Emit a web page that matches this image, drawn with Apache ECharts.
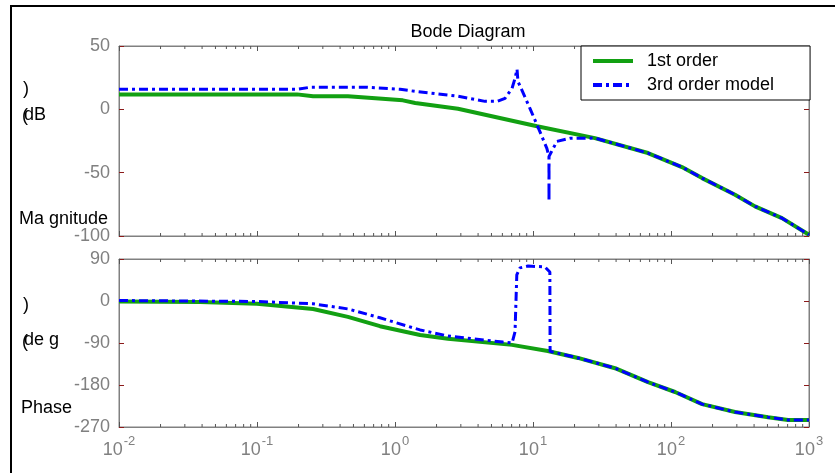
<!DOCTYPE html>
<html>
<head>
<meta charset="utf-8">
<script src="https://cdn.jsdelivr.net/npm/echarts@6/dist/echarts.min.js"></script>
<style>
  html, body { margin: 0; padding: 0; background: #fff; }
  #bode { width: 835px; height: 473px; }
</style>
</head>
<body>
<div id="bode"></div>
<script>
// 频率 (rad/s) 与幅值/相位
var magFreq1 = [0.01, 0.195, 0.255, 0.456, 1.14, 1.40, 2.86, 10.7, 28.1, 68.1, 120, 168, 291, 406, 637, 1000];
var magDb1   = [11.8, 11.8, 10.3, 10.3, 7.1, 5.0, 0.5, -13.4, -22.7, -34.5, -45.6, -54.3, -67.4, -76.6, -85.9, -99];

var magFreq3 = [0.01, 0.195, 0.242, 0.627, 1.09, 1.40, 2.87, 4.49, 5.5, 6.27, 7.05, 7.41, 7.66, 7.78, 9.50, 11.2, 12.6, 13.05, 13.06, 13.07, 14.9, 18.5, 28.1, 68.1, 120, 168, 291, 406, 637, 1000];
var magDb3   = [15.8, 15.8, 17.4, 17.4, 15.8, 14.2, 10.3, 6.3, 6.3, 8.7, 16.6, 24.5, 31.6, 22.1, 0.8, -17.4, -30.8, -37.1, -72.7, -37.1, -25.3, -22.9, -22.7, -34.5, -45.6, -54.3, -67.4, -76.6, -85.9, -99];

var phFreq1 = [0.01, 0.0387, 0.1, 0.255, 0.456, 0.778, 1.52, 2.42, 7.05, 12.8, 21.2, 39.3, 68.1, 107, 168, 291, 505, 705, 1000];
var phDeg1  = [-1, -2, -6, -17, -34, -54, -73, -81, -94, -107, -122, -144, -174, -195, -221, -238, -249, -255, -255];

var phFreq3 = [0.01, 0.1, 0.255, 0.456, 0.778, 1.52, 2.42, 6.07, 7.05, 7.41, 7.63, 8.05, 9.21, 12.2, 13.25, 13.3, 21.2, 39.3, 68.1, 107, 168, 291, 505, 705, 1000];
var phDeg3  = [1, -1, -6, -17, -36, -62, -75, -88, -90, -66, 56, 71, 75, 73, 62, -108, -122, -144, -174, -195, -221, -238, -249, -255, -255];

var magTicks = [-100, -50, 0, 50];
var phaseTicks = [-270, -180, -90, 0, 90];
var seriesNames = ['1st order', '3rd order model'];

// 对数轴的小刻度 2..9 x 10^k
var minorTicks = [];
for (var k = -2; k < 3; k++) {
  for (var m = 2; m < 10; m++) minorTicks.push([m * Math.pow(10, k), 0]);
}

function pairs(xs, ys) {
  return xs.map(function (x, i) { return [x, ys[i]]; });
}

var FONT = 'Liberation Sans, Arial, sans-serif';
var GRAY = '#808080';
var GREEN = '#12a012';
var BLUE = '#0000ff';

var chart = echarts.init(document.getElementById('bode'));

function xAx(gi, pos, labels) {
  return {
    type: 'log', logBase: 10, min: 0.01, max: 1000, gridIndex: gi, position: pos,
    axisLine: { show: true, onZero: false, lineStyle: { color: GRAY, width: 1 } },
    axisTick: { show: true, inside: true, length: 5, lineStyle: { color: '#555' } },
    splitLine: { show: false },
    axisLabel: {
      show: labels, margin: 8, fontFamily: FONT,
      formatter: function (v) { return '{b|10}{s|' + Math.round(Math.log10(v)) + '}'; },
      rich: {
        b: { fontSize: 18, color: GRAY, fontFamily: FONT, verticalAlign: 'bottom', lineHeight: 24 },
        s: { fontSize: 13, color: GRAY, fontFamily: FONT, verticalAlign: 'top', lineHeight: 24, padding: [0, 0, 10, 1] }
      }
    }
  };
}

function yAx(gi, pos, mn, mx, step, labels) {
  return {
    type: 'value', min: mn, max: mx, interval: step, gridIndex: gi, position: pos,
    axisLine: { show: true, onZero: false, lineStyle: { color: GRAY, width: 1 } },
    axisTick: { show: true, inside: true, length: 5, lineStyle: { color: '#8b1a1a' } },
    splitLine: { show: false },
    axisLabel: { show: labels, margin: 9, fontSize: 18, color: GRAY, fontFamily: FONT }
  };
}

function minorSeries(xi, yi) {
  return {
    type: 'custom', xAxisIndex: xi, yAxisIndex: yi, silent: true, z: 1,
    data: minorTicks,
    renderItem: function (params, api) {
      var x = api.coord([api.value(0), 0])[0];
      var cs = params.coordSys;
      var st = { stroke: '#555', lineWidth: 1 };
      return {
        type: 'group', children: [
          { type: 'line', shape: { x1: x, y1: cs.y + cs.height, x2: x, y2: cs.y + cs.height - 3 }, style: st },
          { type: 'line', shape: { x1: x, y1: cs.y, x2: x, y2: cs.y + 3 }, style: st }
        ]
      };
    }
  };
}

var option = {
  animation: false,
  backgroundColor: '#fff',
  title: {
    text: 'Bode Diagram', left: 463, top: 18, textAlign: 'center',
    textStyle: { fontSize: 18, fontWeight: 'normal', color: '#000', fontFamily: FONT }
  },
  legend: {
    data: seriesNames, orient: 'vertical', left: 581, top: 46,
    itemWidth: 40, itemHeight: 14, itemGap: 6, padding: [6, 36, 6, 10],
    borderColor: '#000', borderWidth: 1, backgroundColor: '#fff',
    itemStyle: { opacity: 0 },
    lineStyle: { width: 4 },
    textStyle: { fontSize: 18, color: '#000', fontFamily: FONT, padding: [0, 0, 0, 9] }
  },
  grid: [
    { left: 119, top: 46, width: 690, height: 190, show: true, borderColor: GRAY, borderWidth: 1 },
    { left: 119, top: 259, width: 690, height: 168, show: true, borderColor: GRAY, borderWidth: 1 }
  ],
  xAxis: [xAx(0, 'bottom', false), xAx(0, 'top', false), xAx(1, 'bottom', true), xAx(1, 'top', false)],
  yAxis: [
    yAx(0, 'left', magTicks[0], magTicks[magTicks.length - 1], 50, true),
    yAx(0, 'right', magTicks[0], magTicks[magTicks.length - 1], 50, false),
    yAx(1, 'left', phaseTicks[0], phaseTicks[phaseTicks.length - 1], 90, true),
    yAx(1, 'right', phaseTicks[0], phaseTicks[phaseTicks.length - 1], 90, false)
  ],
  graphic: [
    { type: 'line', shape: { x1: 10, y1: 6, x2: 835, y2: 6 }, style: { stroke: '#000', lineWidth: 2 } },
    { type: 'line', shape: { x1: 11, y1: 5, x2: 11, y2: 473 }, style: { stroke: '#000', lineWidth: 2 } },
    { type: 'text', left: 23, top: 80, style: { text: ')', fill: '#000', font: '18px ' + FONT } },
    { type: 'text', left: 22, top: 107, style: { text: '(', fill: '#000', font: '18px ' + FONT } },
    { type: 'text', left: 24, top: 106, style: { text: 'dB', fill: '#000', font: '18px ' + FONT } },
    { type: 'text', left: 19, top: 210, style: { text: 'Ma gnitude', fill: '#000', font: '18px ' + FONT } },
    { type: 'text', left: 23, top: 296, style: { text: ')', fill: '#000', font: '18px ' + FONT } },
    { type: 'text', left: 22, top: 333, style: { text: '(', fill: '#000', font: '18px ' + FONT } },
    { type: 'text', left: 24, top: 331, style: { text: 'de g', fill: '#000', font: '18px ' + FONT } },
    { type: 'text', left: 21, top: 399, style: { text: 'Phase', fill: '#000', font: '18px ' + FONT } }
  ],
  series: [
    {
      name: seriesNames[0], type: 'line', xAxisIndex: 0, yAxisIndex: 0, symbol: 'none', z: 3,
      lineStyle: { color: GREEN, width: 4 }, itemStyle: { color: GREEN },
      data: pairs(magFreq1, magDb1)
    },
    {
      name: seriesNames[1], type: 'line', xAxisIndex: 0, yAxisIndex: 0, symbol: 'none', z: 4,
      lineStyle: { color: BLUE, width: 3, type: [9, 4, 3, 4] }, itemStyle: { color: BLUE },
      data: pairs(magFreq3, magDb3)
    },
    {
      name: seriesNames[0], type: 'line', xAxisIndex: 2, yAxisIndex: 2, symbol: 'none', z: 3,
      lineStyle: { color: GREEN, width: 4 }, itemStyle: { color: GREEN },
      data: pairs(phFreq1, phDeg1)
    },
    {
      name: seriesNames[1], type: 'line', xAxisIndex: 2, yAxisIndex: 2, symbol: 'none', z: 4,
      lineStyle: { color: BLUE, width: 3, type: [9, 4, 3, 4] }, itemStyle: { color: BLUE },
      data: pairs(phFreq3, phDeg3)
    },
    minorSeries(0, 0),
    minorSeries(2, 2)
  ]
};

chart.setOption(option);
</script>
</body>
</html>
